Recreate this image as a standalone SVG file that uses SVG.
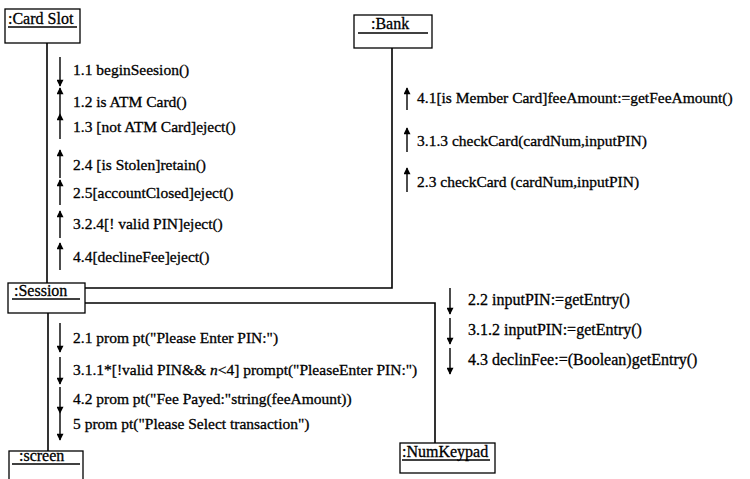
<svg xmlns="http://www.w3.org/2000/svg" width="750" height="479" viewBox="0 0 750 479">
<style>
text{font-family:"Liberation Serif","Times New Roman",serif;font-size:15.5px;fill:#000;stroke:#000;stroke-width:0.3}
.obj text{font-size:16px}
.kp{font-size:16px}
.obj rect{fill:#fff;stroke:#000;stroke-width:1.3}
.obj line{stroke:#000;stroke-width:1.3}
.link{fill:none;stroke:#000;stroke-width:1.6}
.msg{stroke:#000;stroke-width:1.4;marker-end:url(#ah)}
</style>
<defs>
<marker id="ah" viewBox="0 0 10 10" refX="9" refY="5" markerWidth="9" markerHeight="7" markerUnits="userSpaceOnUse" orient="auto">
<path d="M0,0 L10,5 L0,10 z" fill="#000"/>
</marker>
</defs>
<rect width="750" height="479" fill="#fff"/>
<g id="connectors">
<polyline class="link" points="47,43 47,283"/>
<polyline class="link" points="85,288 392,288 392,48"/>
<polyline class="link" points="85,303 435,303 435,443"/>
<polyline class="link" points="48,313 48,451"/>
</g>
<g id="messages">
<line class="msg" x1="60" y1="57" x2="60" y2="86"/>
<text x="73" y="75">1.1 beginSeesion()</text>
<line class="msg" x1="60" y1="114" x2="60" y2="88"/>
<text x="73" y="107">1.2 is ATM Card()</text>
<line class="msg" x1="60" y1="139" x2="60" y2="114"/>
<text x="73" y="132">1.3 [not ATM Card]eject()</text>
<line class="msg" x1="60" y1="178" x2="60" y2="150"/>
<text x="73" y="170">2.4 [is Stolen]retain()</text>
<line class="msg" x1="60" y1="205" x2="60" y2="180"/>
<text x="73" y="198">2.5[accountClosed]eject()</text>
<line class="msg" x1="60" y1="238" x2="60" y2="211"/>
<text x="73" y="229">3.2.4[! valid PIN]eject()</text>
<line class="msg" x1="60" y1="270" x2="60" y2="243"/>
<text x="73" y="262">4.4[declineFee]eject()</text>
<line class="msg" x1="407" y1="110" x2="407" y2="88"/>
<text x="417" y="103">4.1[is Member Card]feeAmount:=getFeeAmount()</text>
<line class="msg" x1="407" y1="152" x2="407" y2="128"/>
<text x="417" y="146">3.1.3 checkCard(cardNum,inputPIN)</text>
<line class="msg" x1="407" y1="192" x2="407" y2="168"/>
<text x="417" y="187">2.3 checkCard (cardNum,inputPIN)</text>
<line class="msg" x1="450" y1="288" x2="450" y2="314"/>
<text class="kp" x="468" y="305">2.2 inputPIN:=getEntry()</text>
<line class="msg" x1="450" y1="318" x2="450" y2="344"/>
<text class="kp" x="468" y="335">3.1.2 inputPIN:=getEntry()</text>
<line class="msg" x1="450" y1="348" x2="450" y2="374"/>
<text class="kp" x="468" y="365">4.3 declinFee:=(Boolean)getEntry()</text>
<line class="msg" x1="60" y1="323" x2="60" y2="352"/>
<text x="73" y="343">2.1 prom pt("Please Enter PIN:")</text>
<line class="msg" x1="60" y1="357" x2="60" y2="384"/>
<text x="73" y="375">3.1.1*[!valid PIN&amp;&amp; <tspan font-style="italic">n</tspan>&lt;4] prompt("PleaseEnter PIN:")</text>
<line class="msg" x1="60" y1="387" x2="60" y2="413"/>
<text x="73" y="404">4.2 prom pt("Fee Payed:"string(feeAmount))</text>
<line class="msg" x1="60" y1="413" x2="60" y2="440"/>
<text x="73" y="429">5 prom pt("Please Select transaction")</text>
</g>
<g id="cardslot" class="obj">
<rect x="5" y="9" width="75" height="34"/>
<text x="8" y="24">:Card Slot</text>
<line x1="8" y1="27" x2="77" y2="27"/>
</g>
<g id="bank" class="obj">
<rect x="354" y="15" width="78" height="33"/>
<text x="371" y="29">:Bank</text>
<line x1="358" y1="33" x2="428" y2="33"/>
</g>
<g id="session" class="obj">
<rect x="8" y="283" width="77" height="30"/>
<text x="14" y="296">:Session</text>
<line x1="12" y1="299" x2="80" y2="299"/>
</g>
<g id="screen" class="obj">
<rect x="9" y="451" width="74" height="30"/>
<text x="19" y="461">:screen</text>
<line x1="12" y1="464" x2="80" y2="464"/>
</g>
<g id="numkeypad" class="obj">
<rect x="400" y="443" width="95" height="30"/>
<text x="402" y="457">:NumKeypad</text>
<line x1="402" y1="460" x2="490" y2="460"/>
</g>
</svg>
